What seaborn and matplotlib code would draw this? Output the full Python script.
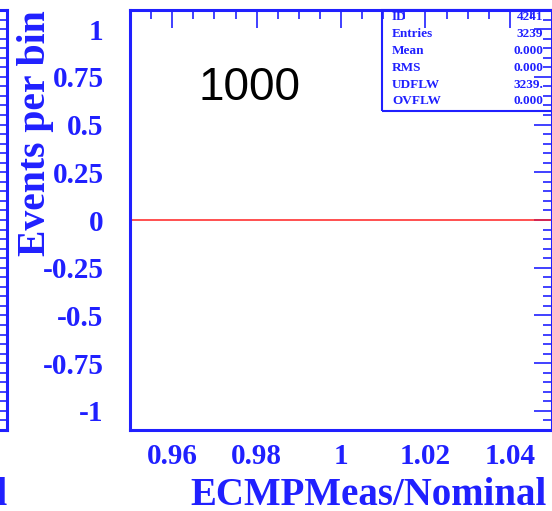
import matplotlib
matplotlib.use("Agg")
import matplotlib.pyplot as plt
import matplotlib.ticker as mticker
from matplotlib.patches import Rectangle
import pandas as pd
import seaborn as sns

# histogram ECMPMeas/Nominal: every entry went to underflow, so all bins are empty
bin_x = [0.95, 1.05]
bin_counts = [0.0, 0.0]

x_ticks = [0.96, 0.98, 1.0, 1.02, 1.04]
x_tick_labels = ["0.96", "0.98", "1", "1.02", "1.04"]
y_ticks = [-1, -0.75, -0.5, -0.25, 0, 0.25, 0.5, 0.75, 1]
y_tick_labels = ["-1", "-0.75", "-0.5", "-0.25", "0", "0.25", "0.5", "0.75", "1"]

stat_names = ["ID", "Entries", "Mean", "RMS", "UDFLW", "OVFLW"]
stat_values = ["4241", "3239", "0.000", "0.000", "3239.", "0.000"]

BLUE = "#2020ff"
W, H = 552, 511

sns.set_theme(style="white")
plt.rcParams["font.family"] = ["Liberation Serif", "DejaVu Serif"]

fig = plt.figure(figsize=(W / 100, H / 100), dpi=100)
fig.patch.set_facecolor("white")


def style_axes(ax, show_labels=True):
    ax.set_xlim(0.95, 1.05)
    ax.set_ylim(-1.1, 1.1)
    ax.set_xticks(x_ticks)
    ax.set_yticks(y_ticks)
    if show_labels:
        ax.set_xticklabels(x_tick_labels)
        ax.set_yticklabels(y_tick_labels)
    else:
        ax.set_xticklabels([])
        ax.set_yticklabels([])
    ax.xaxis.set_minor_locator(mticker.MultipleLocator(0.005))
    ax.yaxis.set_minor_locator(mticker.MultipleLocator(0.05))
    ax.tick_params(which="both", direction="in", top=True, right=True,
                   color=BLUE, width=1.2)
    ax.tick_params(which="major", length=13)
    ax.tick_params(which="minor", length=6.5)
    ax.tick_params(axis="y", which="major", pad=19, labelsize=21, labelcolor=BLUE)
    ax.tick_params(axis="x", which="major", pad=9, labelsize=21, labelcolor=BLUE)
    for lab in ax.get_xticklabels() + ax.get_yticklabels():
        lab.set_fontweight("bold")
    for sp in ax.spines.values():
        sp.set_color(BLUE)
        sp.set_linewidth(2.2)
        sp.set_visible(True)
    ax.set_facecolor("white")
    ax.set_xlabel("")
    ax.set_ylabel("")


bottom = 1 - 430 / H
height = 420 / H

# neighbouring panel, only its right edge is inside the picture
ax_left = fig.add_axes([-0.7, bottom, 0.7 + 7 / W, height])
style_axes(ax_left, show_labels=False)

# main panel
ax = fig.add_axes([130 / W, bottom, 422 / W, height])
df = pd.DataFrame({"x": bin_x, "counts": bin_counts})
sns.lineplot(data=df, x="x", y="counts", ax=ax, color="#ff2020", linewidth=1.1,
             drawstyle="steps-post")
style_axes(ax)

# axis titles, ROOT style (right aligned / top aligned)
fig.text(547 / W, 1 - 505 / H, "ECMPMeas/Nominal", ha="right", va="baseline",
         fontsize=28, fontweight="bold", color=BLUE)
fig.text(8 / W, 1 - 505 / H, "ECMPMeas/Nominal", ha="right", va="baseline",
         fontsize=28, fontweight="bold", color=BLUE)
fig.text(36 / W, 1 - 10 / H, "Events per bin", ha="center", va="top",
         rotation=90, fontsize=28.5, fontweight="bold", color=BLUE)

fig.text(198 / W, 1 - 100 / H, "1000", ha="left", va="baseline",
         fontsize=33, family=["Liberation Sans", "DejaVu Sans"], color="black")

# stats box
box = Rectangle((382 / W, 1 - 111 / H), 175 / W, 101 / H, transform=fig.transFigure,
                fill=False, edgecolor=BLUE, linewidth=1.5)
fig.patches.append(box)
row_y = [17, 34, 51, 68, 85, 101]
for name, val, yy in zip(stat_names, stat_values, row_y):
    fig.text(392 / W, 1 - yy / H, name, ha="left", va="center", fontsize=9.5,
             fontweight="bold", color=BLUE)
    fig.text(543 / W, 1 - yy / H, val, ha="right", va="center", fontsize=9.5,
             fontweight="bold", color=BLUE)

fig.savefig("out.png", dpi=100)
